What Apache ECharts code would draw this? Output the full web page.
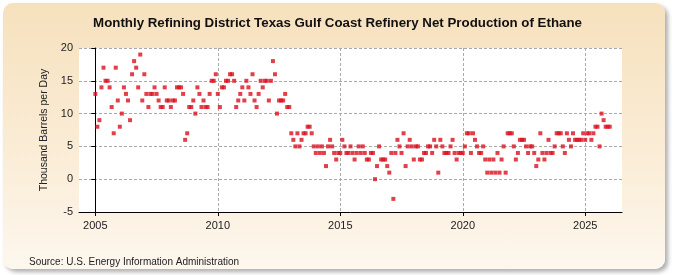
<!DOCTYPE html>
<html>
<head>
<meta charset="utf-8">
<script src="https://cdn.jsdelivr.net/npm/echarts@6/dist/echarts.min.js"></script>
<style>
  html, body { margin: 0; padding: 0; background: #fff; }
  #wrap { position: relative; width: 675px; height: 275px; overflow: hidden; }
  #panel {
    position: absolute; left: 3px; top: 3px; width: 662px; height: 266px;
    border-radius: 10px;
    background: linear-gradient(to bottom, #f6e1bd 0%, #fbedd8 60%, #fdf7ee 100%);
    box-shadow: 3px 3px 4px rgba(120,120,120,0.6);
  }
  #chart { position: absolute; left: 0; top: 0; width: 675px; height: 275px; }
</style>
</head>
<body>
<div id="wrap">
  <div id="panel"></div>
  <div id="chart"></div>
</div>
<script>
// monthly values, thousand barrels per day, starting Jan 2005
var v2005 = [13, 8, 9, 14, 17, 15, 15, 14, 11, 7, 17, 12];
var v2006 = [8, 10, 14, 13, 12, 9, 16, 18, 17, 14, 19, 12];
var v2007 = [16, 13, 11, 13, 13, 14, 13, 12, 11, 11, 14, 12];
var v2008 = [12, 11, 12, 12, 14, 14, 14, 13, 6, 7, 11, 11];
var v2009 = [12, 10, 14, 13, 11, 12, 11, 11, 13, 15, 15, 16];
var v2010 = [13, 11, 14, 14, 15, 15, 16, 16, 15, 11, 12, 13];
var v2011 = [14, 12, 15, 14, 13, 16, 12, 11, 13, 15, 14, 15];
var v2012 = [15, 12, 15, 18, 16, 10, 12, 12, 12, 13, 11, 11];
var v2013 = [7, 6, 5, 7, 5, 6, 7, 7, 8, 8, 7, 5];
var v2014 = [4, 5, 4, 5, 4, 2, 5, 6, 5, 4, 3, 4];
var v2015 = [4, 6, 5, 4, 4, 5, 4, 3, 4, 5, 4, 5];
var v2016 = [4, 3, 3, 4, 4, 0, 2, 5, 3, 3, 3, 2];
var v2017 = [1, 4, -3, 4, 6, 5, 4, 7, 2, 5, 6, 5];
var v2018 = [3, 5, 5, 3, 3, 4, 4, 5, 5, 4, 6, 5];
var v2019 = [1, 6, 5, 4, 4, 4, 5, 6, 4, 3, 4, 4];
var v2020 = [4, 5, 7, 7, 4, 7, 6, 5, 4, 4, 5, 3];
var v2021 = [1, 3, 1, 3, 1, 4, 1, 3, 5, 1, 7, 7];
var v2022 = [7, 5, 3, 4, 6, 6, 6, 5, 4, 5, 5, 4];
var v2023 = [2, 3, 7, 4, 3, 4, 6, 4, 4, 5, 7, 7];
var v2024 = [7, 5, 4, 7, 6, 5, 7, 6, 6, 6, 6, 7];
var v2025 = [6, 7, 7, 6, 7, 8, 8, 5, 10, 9, 8, 8];
var v2026 = [8];

var startYear = 2005;
var yearTicks = [2005, 2010, 2015, 2020, 2025];

var allYears = [v2005, v2006, v2007, v2008, v2009, v2010, v2011, v2012, v2013, v2014, v2015,
  v2016, v2017, v2018, v2019, v2020, v2021, v2022, v2023, v2024, v2025, v2026];

var points = [];
var m = 0;
allYears.forEach(function (arr) {
  arr.forEach(function (v) {
    points.push([m, v]);
    m++;
  });
});

var tickMonths = yearTicks.map(function (y) { return (y - startYear) * 12; });

var chart = echarts.init(document.getElementById('chart'), null, {renderer: 'canvas'});
var option = {
  backgroundColor: 'transparent',
  animation: false,
  title: {
    text: 'Monthly Refining District Texas Gulf Coast Refinery Net Production of Ethane',
    left: 'center',
    top: 12,
    textStyle: {fontFamily: 'Liberation Sans, Arial', fontSize: 13.3, fontWeight: 'bold', color: '#111'}
  },
  graphic: [{
    type: 'text',
    left: 29,
    top: 257,
    style: {text: 'Source: U.S. Energy Information Administration', font: '10px "Liberation Sans", Arial', fill: '#222'}
  }],
  grid: {
    left: 79, right: 53, top: 48, bottom: 63,
    show: true, backgroundColor: '#fff', borderWidth: 0
  },
  xAxis: {
    type: 'value',
    min: -8,
    max: 258,
    axisLine: {show: true, onZero: false, lineStyle: {color: '#000', width: 1}},
    axisTick: {show: true, customValues: tickMonths, length: 4, lineStyle: {color: '#000'}},
    axisLabel: {
      customValues: tickMonths,
      fontFamily: 'Liberation Sans, Arial', fontSize: 11, color: '#222', margin: 8,
      formatter: function (v) { return String(startYear + Math.round(v / 12)); }
    },
    splitLine: {show: true, lineStyle: {color: '#aaa', type: [3, 2], width: 1}}
  },
  yAxis: {
    type: 'value',
    min: -5,
    max: 20,
    interval: 5,
    name: 'Thousand Barrels per Day',
    nameLocation: 'middle',
    nameGap: 29,
    nameTextStyle: {fontFamily: 'Liberation Sans, Arial', fontSize: 10.5, color: '#222'},
    axisLine: {show: true, lineStyle: {color: '#000', width: 1}},
    axisTick: {show: true, length: 4, lineStyle: {color: '#000'}},
    axisLabel: {fontFamily: 'Liberation Sans, Arial', fontSize: 11, color: '#222', margin: 6},
    splitLine: {show: true, lineStyle: {color: '#aaa', type: [3, 2], width: 1}}
  },
  series: [{
    type: 'scatter',
    data: points,
    symbol: 'rect',
    symbolSize: 4,
    itemStyle: {color: '#dc0f1e'}
  }]
};
chart.setOption(option);
</script>
</body>
</html>
